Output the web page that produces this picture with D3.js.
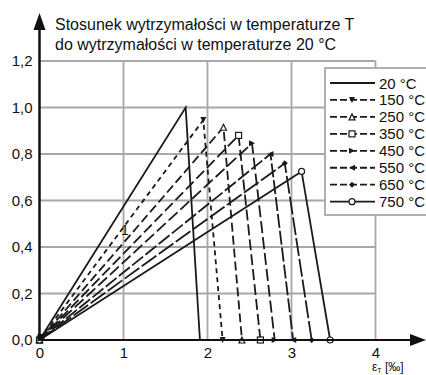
<!DOCTYPE html>
<html>
<head>
<meta charset="utf-8">
<script src="https://cdn.jsdelivr.net/npm/d3@7"></script>
<style>
  body { margin: 0; background: #fff; }
  svg { display: block; font-family: "Liberation Sans", Arial, sans-serif; }
</style>
</head>
<body>
<svg id="chart" width="426" height="375"></svg>
<script>
// values
const temps = ["20 °C", "150 °C", "250 °C", "350 °C", "450 °C", "550 °C", "650 °C", "750 °C"];
const peakStrain = [1.74, 1.95, 2.19, 2.37, 2.53, 2.75, 2.92, 3.12];
const peakRatio = [1.0, 0.946, 0.915, 0.88, 0.846, 0.80, 0.76, 0.725];
const endStrain = [1.91, 2.18, 2.41, 2.63, 2.80, 3.02, 3.24, 3.46];
const xTicks = [0, 1, 2, 3, 4];
const yTicks = [0, 0.2, 0.4, 0.6, 0.8, 1.0, 1.2];

// styling per series
const dashes = [null, "5,4", "9,4", "11,4", "12,4", "14,3", "18,3", null];
const markers = [null, "down", "tri", "square", "right", "left", "diamond", "circle"];

const svg = d3.select("#chart");

const x = d3.scaleLinear().domain([0, 4]).range([39.5, 375.5]);
const y = d3.scaleLinear().domain([0, 1.2]).range([340, 61]);

// ********** grid
const grid = svg.append("g").attr("stroke", "#a8a8a8").attr("stroke-width", 1.8);
grid.selectAll("line.h").data(yTicks.filter(d => d > 0)).enter().append("line")
  .attr("x1", x(0)).attr("x2", x(4))
  .attr("y1", d => y(d)).attr("y2", d => y(d));
grid.selectAll("line.v").data(xTicks.filter(d => d > 0)).enter().append("line")
  .attr("x1", d => x(d)).attr("x2", d => x(d))
  .attr("y1", y(0)).attr("y2", y(1.2));

// ********** series
const series = temps.map((t, i) => ({
  name: t,
  pts: [[0, 0], [peakStrain[i], peakRatio[i]], [endStrain[i], 0]],
  dash: dashes[i],
  marker: markers[i]
}));

const line = d3.line().x(d => x(d[0])).y(d => y(d[1]));

svg.append("g").selectAll("path").data(series).enter().append("path")
  .attr("d", d => line(d.pts))
  .attr("fill", "none")
  .attr("stroke", "#1a1a1a")
  .attr("stroke-width", 1.8)
  .attr("stroke-dasharray", d => d.dash);

function drawMarker(g, kind, cx, cy) {
  const s = 3;
  if (kind === "down") {
    g.append("path").attr("d", `M${cx - s},${cy - s}L${cx + s},${cy - s}L${cx},${cy + s}Z`).attr("fill", "#1a1a1a");
  } else if (kind === "tri") {
    g.append("path").attr("d", `M${cx - s},${cy + s}L${cx + s},${cy + s}L${cx},${cy - s}Z`)
      .attr("fill", "#fff").attr("stroke", "#1a1a1a").attr("stroke-width", 1.2);
  } else if (kind === "square") {
    g.append("rect").attr("x", cx - s).attr("y", cy - s).attr("width", 2 * s).attr("height", 2 * s)
      .attr("fill", "#fff").attr("stroke", "#1a1a1a").attr("stroke-width", 1.2);
  } else if (kind === "right") {
    g.append("path").attr("d", `M${cx - s},${cy - s}L${cx + s},${cy}L${cx - s},${cy + s}Z`).attr("fill", "#1a1a1a");
  } else if (kind === "left") {
    g.append("path").attr("d", `M${cx + s},${cy - s}L${cx - s},${cy}L${cx + s},${cy + s}Z`).attr("fill", "#1a1a1a");
  } else if (kind === "diamond") {
    g.append("path").attr("d", `M${cx},${cy - s}L${cx + s},${cy}L${cx},${cy + s}L${cx - s},${cy}Z`).attr("fill", "#1a1a1a");
  } else if (kind === "circle") {
    g.append("circle").attr("cx", cx).attr("cy", cy).attr("r", s)
      .attr("fill", "#fff").attr("stroke", "#1a1a1a").attr("stroke-width", 1.2);
  }
}

const mg = svg.append("g");
series.forEach(s => {
  if (!s.marker) return;
  s.pts.forEach(p => drawMarker(mg, s.marker, x(p[0]), y(p[1])));
});
// dark blob at origin where all curves start
mg.append("rect").attr("x", x(0) - 2).attr("y", y(0) - 6).attr("width", 7).attr("height", 7).attr("fill", "#111");

// ********** legend
const lg = svg.append("g");
lg.append("rect").attr("x", 325).attr("y", 68).attr("width", 110).attr("height", 147)
  .attr("fill", "#fff").attr("stroke", "#a8a8a8").attr("stroke-width", 1.8);
series.forEach((s, i) => {
  const ly = 83 + i * 16.95;
  lg.append("line").attr("x1", 330).attr("x2", 375).attr("y1", ly).attr("y2", ly)
    .attr("stroke", "#1a1a1a").attr("stroke-width", 1.8)
    .attr("stroke-dasharray", s.dash ? "7,3" : null);
  if (s.marker) drawMarker(lg, s.marker, 352, ly);
  lg.append("text").attr("x", 379).attr("y", ly + 5.5).attr("font-size", 15).attr("fill", "#111").text(s.name);
});

// ********** axes
const fmt = d => d3.format(".1f")(d).replace(".", ",");
const yAxis = svg.append("g").attr("transform", `translate(${x(0)},0)`)
  .call(d3.axisLeft(y).tickValues(yTicks).tickSize(0).tickPadding(7).tickFormat(fmt));
const xAxis = svg.append("g").attr("transform", `translate(0,${y(0)})`)
  .call(d3.axisBottom(x).tickValues(xTicks).tickSize(0).tickPadding(7).tickFormat(d3.format("d")));
[yAxis, xAxis].forEach(a => {
  a.select(".domain").remove();
  a.selectAll("text").attr("font-size", 15).attr("fill", "#111").attr("font-family", "Liberation Sans, Arial, sans-serif");
});

svg.append("line").attr("x1", x(0)).attr("x2", x(0)).attr("y1", y(0) + 1).attr("y2", 28)
  .attr("stroke", "#111").attr("stroke-width", 2.5);
svg.append("path").attr("d", `M${x(0) - 6},30L${x(0)},13L${x(0) + 6},30Z`).attr("fill", "#111");
svg.append("line").attr("x1", x(0) - 1).attr("x2", 412).attr("y1", y(0)).attr("y2", y(0))
  .attr("stroke", "#111").attr("stroke-width", 2.2);
svg.append("path").attr("d", `M410,${y(0) - 6}L426,${y(0)}L410,${y(0) + 6}Z`).attr("fill", "#111");

// ********** text
svg.append("text").attr("x", 55).attr("y", 30).attr("font-size", 16).attr("fill", "#111")
  .text("Stosunek wytrzymałości w temperaturze T");
svg.append("text").attr("x", 55).attr("y", 50).attr("font-size", 16).attr("fill", "#111")
  .text("do wytrzymałości w temperaturze 20 °C");
svg.append("text").attr("x", 125).attr("y", 235).attr("font-size", 14).attr("text-anchor", "middle").attr("fill", "#111").text("1");
const xl = svg.append("text").attr("x", 372).attr("y", 371).attr("font-size", 12).attr("fill", "#111");
xl.append("tspan").text("ε");
xl.append("tspan").attr("font-size", 7).attr("dy", 2).text("T");
xl.append("tspan").attr("dy", -2).text(" [‰]");
</script>
</body>
</html>
